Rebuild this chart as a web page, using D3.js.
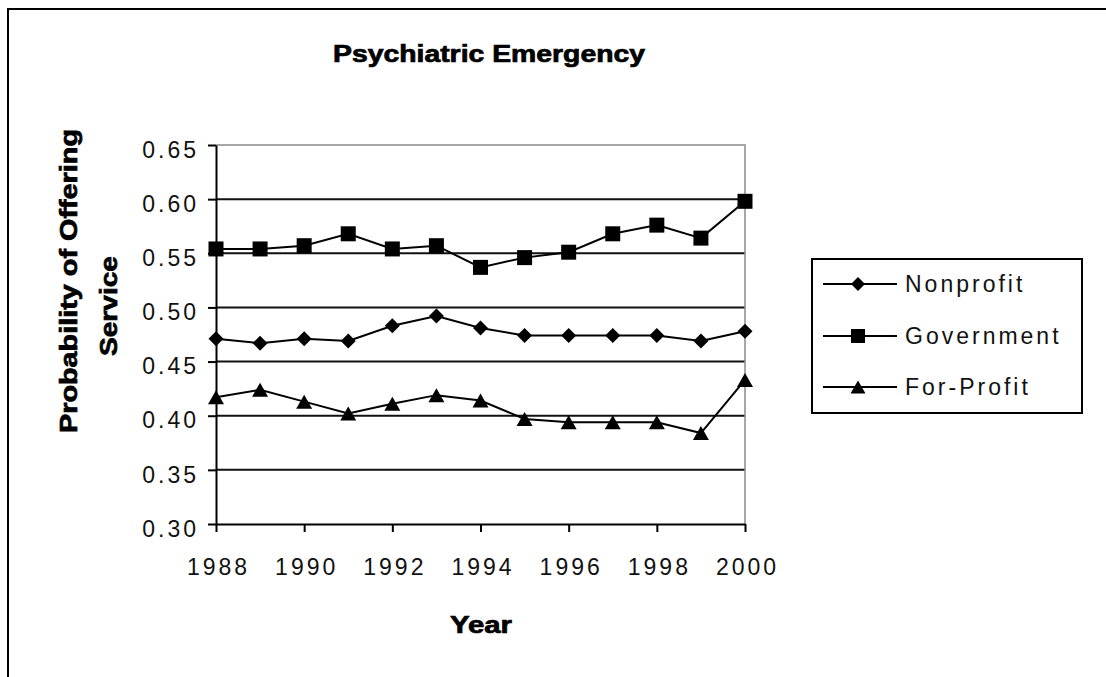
<!DOCTYPE html>
<html>
<head>
<meta charset="utf-8">
<script src="https://cdn.jsdelivr.net/npm/d3@7/dist/d3.min.js"></script>
<style>
  html, body { margin: 0; padding: 0; background: #fff; }
  svg { display: block; }
</style>
</head>
<body>
<div id="chart"></div>
<script>
// ---- data ----
const title = "Psychiatric Emergency";
const xTitle = "Year";
const yTitleLines = ["Probability of Offering", "Service"];
const years = [1988, 1989, 1990, 1991, 1992, 1993, 1994, 1995, 1996, 1997, 1998, 1999, 2000];
const nonprofit  = [0.471, 0.467, 0.471, 0.469, 0.483, 0.492, 0.481, 0.474, 0.474, 0.474, 0.474, 0.469, 0.478];
const government = [0.554, 0.554, 0.557, 0.568, 0.554, 0.557, 0.537, 0.546, 0.551, 0.568, 0.576, 0.564, 0.598];
const forProfit  = [0.417, 0.424, 0.413, 0.402, 0.411, 0.419, 0.414, 0.397, 0.394, 0.394, 0.394, 0.384, 0.433];
const seriesNames = ["Nonprofit", "Government", "For-Profit"];
const markerTypes = ["diamond", "square", "triangle"];
const yTicks = [0.30, 0.35, 0.40, 0.45, 0.50, 0.55, 0.60, 0.65];
const xTicks = [1988, 1990, 1992, 1994, 1996, 1998, 2000];

// ---- layout ----
const W = 1106, H = 677;
const plot = { left: 216, right: 745, top: 145, bottom: 524 };

const svg = d3.select("#chart").append("svg").attr("width", W).attr("height", H);
svg.append("rect").attr("width", W).attr("height", H).attr("fill", "#fff");

// outer chart frame
svg.append("rect").attr("x", 8).attr("y", 9).attr("width", W + 20).attr("height", H + 20)
  .attr("fill", "none").attr("stroke", "#000").attr("stroke-width", 2);

const x = d3.scaleLinear().domain([1988, 2000]).range([plot.left, plot.right]);
const y = d3.scaleLinear().domain([0.30, 0.65]).range([plot.bottom, plot.top]);

const FONT = "'Liberation Sans', Arial, sans-serif";

// gridlines
svg.append("g").selectAll("line").data(yTicks.filter(v => v > 0.30 && v < 0.65)).join("line")
  .attr("x1", plot.left).attr("x2", plot.right)
  .attr("y1", d => y(d)).attr("y2", d => y(d))
  .attr("stroke", "#111").attr("stroke-width", 2);

// plot border (top, right) gray
svg.append("path")
  .attr("d", `M${plot.left},${y(0.65)}H${plot.right}V${plot.bottom}`)
  .attr("fill", "none").attr("stroke", "#8a8a8a").attr("stroke-width", 1.5);

// y axis
const yAxis = d3.axisLeft(y).tickValues(yTicks).tickFormat(d3.format(".2f"))
  .tickSizeInner(8).tickSizeOuter(0).tickPadding(9);
const gy = svg.append("g").attr("transform", `translate(${plot.left},0)`).call(yAxis);
gy.select(".domain").attr("stroke", "#000").attr("stroke-width", 2);
gy.selectAll(".tick line").attr("stroke", "#000").attr("stroke-width", 2);
gy.selectAll(".tick text").attr("font-family", FONT).attr("font-size", 23)
  .attr("letter-spacing", "3px").attr("fill", "#111").attr("dy", "0.53em");

// x axis
const xAxis = d3.axisBottom(x).tickValues(xTicks).tickFormat(d3.format("d"))
  .tickSizeInner(8).tickSizeOuter(0);
const gx = svg.append("g").attr("transform", `translate(0,${plot.bottom})`).call(xAxis);
gx.select(".domain").attr("stroke", "#000").attr("stroke-width", 2);
gx.selectAll(".tick line").attr("stroke", "#000").attr("stroke-width", 2);
gx.selectAll(".tick text").attr("font-family", FONT).attr("font-size", 23)
  .attr("letter-spacing", "3px").attr("fill", "#111").attr("y", 51).attr("dy", 0).attr("dx", 2);

// markers
function markerPath(type, s) {
  const h = s / 2;
  if (type === "diamond") return `M0,${-h}L${h},0L0,${h}L${-h},0Z`;
  if (type === "square") return `M${-h},${-h}H${h}V${h}H${-h}Z`;
  return `M0,${-h}L${h + 1},${h}L${-h - 1},${h}Z`;
}
const markerSize = { diamond: 15, square: 15, triangle: 14 };

const seriesData = [nonprofit, government, forProfit];
const line = d3.line().x((d, i) => x(years[i])).y(d => y(d));

seriesData.forEach((vals, si) => {
  const g = svg.append("g");
  g.append("path").datum(vals).attr("d", line)
    .attr("fill", "none").attr("stroke", "#000").attr("stroke-width", 2);
  g.selectAll("path.m").data(vals).join("path").attr("class", "m")
    .attr("transform", (d, i) => `translate(${x(years[i])},${y(d)})`)
    .attr("d", markerPath(markerTypes[si], markerSize[markerTypes[si]]))
    .attr("fill", "#000");
});

const boldText = sel => sel.attr("font-family", FONT).attr("font-weight", "bold")
  .attr("font-size", 23).attr("stroke", "#000").attr("stroke-width", 0.7)
  .attr("lengthAdjust", "spacingAndGlyphs");

// title
svg.append("text").attr("x", 489).attr("y", 62).attr("text-anchor", "middle")
  .call(boldText).attr("textLength", 312).text(title);

// x title
svg.append("text").attr("x", 481).attr("y", 633).attr("text-anchor", "middle")
  .call(boldText).attr("textLength", 62).text(xTitle);

// y title (two rotated lines)
const yTitlePos = [{ x: 77, y: 281, len: 304 }, { x: 117, y: 306, len: 100 }];
yTitleLines.forEach((t, i) => {
  const p = yTitlePos[i];
  svg.append("text").attr("transform", `translate(${p.x},${p.y}) rotate(-90)`)
    .attr("text-anchor", "middle").call(boldText).attr("textLength", p.len).text(t);
});

// legend
const legend = { x: 812, y: 259, w: 270, h: 154, rowY: [284, 336, 387] };
svg.append("rect").attr("x", legend.x).attr("y", legend.y).attr("width", legend.w).attr("height", legend.h)
  .attr("fill", "#fff").attr("stroke", "#000").attr("stroke-width", 2);
seriesNames.forEach((name, i) => {
  const ly = legend.rowY[i];
  svg.append("line").attr("x1", 823).attr("x2", 897).attr("y1", ly).attr("y2", ly)
    .attr("stroke", "#000").attr("stroke-width", 2);
  svg.append("path").attr("transform", `translate(858,${ly})`)
    .attr("d", markerPath(markerTypes[i], markerSize[markerTypes[i]] - 1)).attr("fill", "#000");
  svg.append("text").attr("x", 905).attr("y", ly + 8)
    .attr("font-family", FONT).attr("font-size", 23).attr("letter-spacing", "3px")
    .attr("fill", "#111").text(name);
});
</script>
</body>
</html>
